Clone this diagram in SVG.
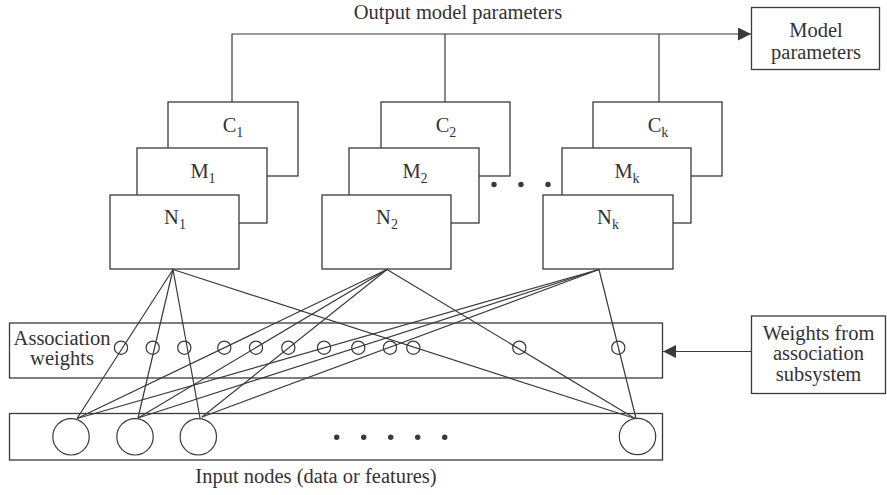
<svg xmlns="http://www.w3.org/2000/svg" width="887" height="495" viewBox="0 0 887 495" font-family="'Liberation Serif', 'DejaVu Serif', serif">
<defs>
<style>
.bx{fill:#fff;stroke:#3a3a3a;stroke-width:1.3}
.ln{fill:none;stroke:#3a3a3a;stroke-width:1.2}
.sc{fill:none;stroke:#3a3a3a;stroke-width:1.2}
.dot{fill:#3a3a3a}
text{font-family:'Liberation Serif','DejaVu Serif',serif;font-size:20.5px;fill:#333;text-anchor:middle}
.sub{font-size:14px}
</style>
<marker id="ah" markerUnits="userSpaceOnUse" markerWidth="14" markerHeight="14" refX="13" refY="6.5" orient="auto">
<path d="M0,0 L13,6.5 L0,13 Z" fill="#3a3a3a"/>
</marker>
</defs>
<rect width="887" height="495" fill="#fff"/>

<text x="458" y="19">Output model parameters</text>

<g id="connectors">
<path class="ln" d="M232,102 V34 H751" marker-end="url(#ah)"/>
<path class="ln" d="M445,102 V34"/>
<path class="ln" d="M659,102 V34"/>
<path class="ln" d="M751.5,351.5 H663" marker-end="url(#ah)"/>
<path class="ln" d="M173,269.5 L77,418.5"/>
<path class="ln" d="M173,269.5 L138,418"/>
<path class="ln" d="M173,269.5 L200,418"/>
<path class="ln" d="M173,269.5 L635,418.5"/>
<path class="ln" d="M387,269.5 L77,418.5"/>
<path class="ln" d="M387,269.5 L138,418"/>
<path class="ln" d="M387,269.5 L202,417"/>
<path class="ln" d="M387,269.5 L635,418.5"/>
<path class="ln" d="M599,269.5 L77,418.5"/>
<path class="ln" d="M599,269.5 L138,418"/>
<path class="ln" d="M599,269.5 L202,417"/>
<path class="ln" d="M599,269.5 L636,418.5"/>
</g>

<g id="model-parameters">
<rect class="bx" x="751.5" y="7.5" width="128" height="62"/>
<text x="816" y="37">Model</text>
<text x="816" y="59">parameters</text>
</g>

<g id="group-1">
<rect class="bx" x="168" y="102" width="130" height="74"/>
<text x="233" y="131.5">C<tspan class="sub" dy="5">1</tspan></text>
<rect class="bx" x="137" y="148" width="130" height="75"/>
<text x="203" y="178">M<tspan class="sub" dy="5">1</tspan></text>
<rect class="bx" x="110" y="195" width="129" height="74"/>
<text x="175" y="224">N<tspan class="sub" dy="5">1</tspan></text>
</g>

<g id="group-2">
<rect class="bx" x="381" y="102" width="129" height="74"/>
<text x="446" y="131.5">C<tspan class="sub" dy="5">2</tspan></text>
<rect class="bx" x="349" y="148" width="130" height="75"/>
<text x="415" y="178">M<tspan class="sub" dy="5">2</tspan></text>
<rect class="bx" x="322" y="195" width="129" height="74"/>
<text x="387" y="224">N<tspan class="sub" dy="5">2</tspan></text>
</g>

<g id="ellipsis-top">
<circle class="dot" cx="494" cy="184.5" r="2.7"/>
<circle class="dot" cx="521" cy="184.5" r="2.7"/>
<circle class="dot" cx="548" cy="184.5" r="2.7"/>
</g>

<g id="group-k">
<rect class="bx" x="593" y="102" width="129" height="74"/>
<text x="658" y="131.5">C<tspan class="sub" dy="5">k</tspan></text>
<rect class="bx" x="562" y="148" width="129" height="75"/>
<text x="627" y="178">M<tspan class="sub" dy="5">k</tspan></text>
<rect class="bx" x="543" y="195" width="130" height="74"/>
<text x="608" y="224">N<tspan class="sub" dy="5">k</tspan></text>
</g>

<g id="association-weights">
<rect x="9.5" y="323" width="653" height="55" fill="none" stroke="#3a3a3a" stroke-width="1.3"/>
<text x="62" y="345">Association</text>
<text x="62" y="365">weights</text>
<circle class="sc" cx="121" cy="347.7" r="6.6"/>
<circle class="sc" cx="152.7" cy="347.7" r="6.6"/>
<circle class="sc" cx="184.3" cy="347.7" r="6.6"/>
<circle class="sc" cx="224.3" cy="347.7" r="6.6"/>
<circle class="sc" cx="256" cy="347.7" r="6.6"/>
<circle class="sc" cx="288.3" cy="347.7" r="6.6"/>
<circle class="sc" cx="324" cy="347.7" r="6.6"/>
<circle class="sc" cx="358.3" cy="347.7" r="6.6"/>
<circle class="sc" cx="390" cy="347.7" r="6.6"/>
<circle class="sc" cx="413.3" cy="347.7" r="6.6"/>
<circle class="sc" cx="519.3" cy="347.7" r="6.6"/>
<circle class="sc" cx="618.3" cy="347.7" r="6.6"/>
</g>

<g id="weights-from-association">
<rect class="bx" x="751.5" y="316" width="134" height="77.5"/>
<text x="818.5" y="340">Weights from</text>
<text x="818.5" y="360">association</text>
<text x="818.5" y="381">subsystem</text>
</g>

<g id="input-nodes">
<rect x="9.5" y="413.5" width="653" height="46.5" fill="none" stroke="#3a3a3a" stroke-width="1.3"/>
<circle class="sc" cx="71" cy="436.8" r="18.2"/>
<circle class="sc" cx="135" cy="436.8" r="18.2"/>
<circle class="sc" cx="198.3" cy="436.8" r="18.2"/>
<circle class="sc" cx="637.5" cy="436.5" r="18.2"/>
<circle class="dot" cx="336.7" cy="437.3" r="2.7"/>
<circle class="dot" cx="363.7" cy="437.3" r="2.7"/>
<circle class="dot" cx="390.7" cy="437.3" r="2.7"/>
<circle class="dot" cx="417.7" cy="437.3" r="2.7"/>
<circle class="dot" cx="444.7" cy="437.3" r="2.7"/>
<text x="316" y="483">Input nodes (data or features)</text>
</g>
</svg>
